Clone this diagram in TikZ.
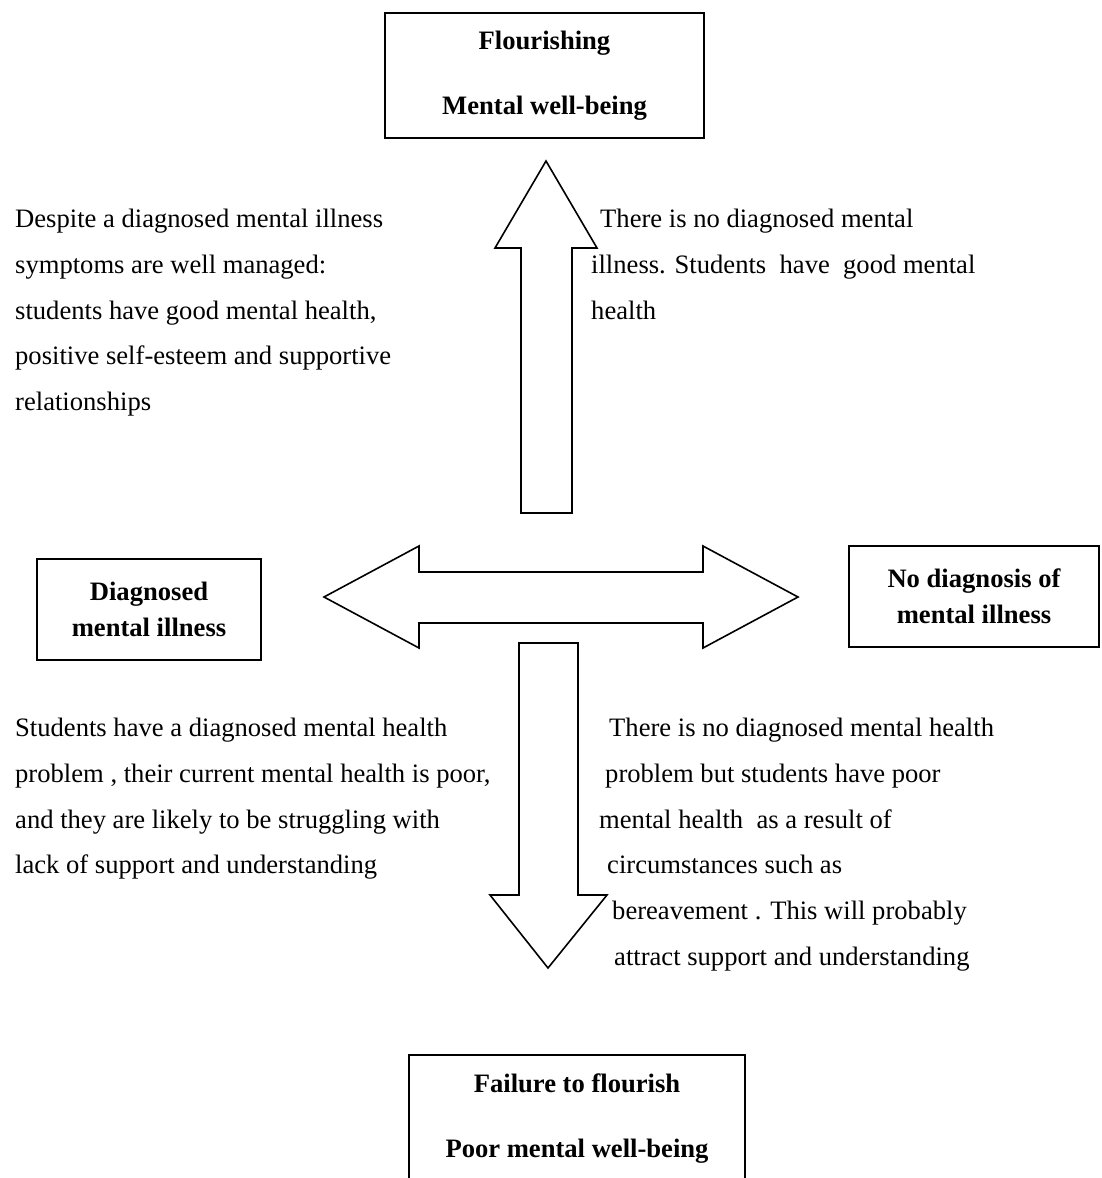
\documentclass[tikz,border=0pt]{standalone}
\usepackage{fontspec}
\setmainfont{Liberation Serif}
\usetikzlibrary{positioning}

\tikzset{
  wellbox/.style={draw, line width=1.6pt, align=center, inner sep=0pt, font=\bfseries\fontsize{26.6}{65}\selectfont},
  diagbox/.style={draw, line width=1.6pt, align=center, inner sep=0pt, font=\bfseries\fontsize{26.6}{36}\selectfont},
  note/.style={anchor=north west, align=left, inner sep=0pt, font=\fontsize{26.6}{45.7}\selectfont},
  fatarrow/.style={draw, line width=1.6pt, line join=miter, fill=white}
}

\begin{document}
\begin{tikzpicture}[x=1pt, y=-1pt]
  \useasboundingbox (0,0) rectangle (1101,1178);

  \node[wellbox, minimum width=319pt, minimum height=125pt] (flourish) at (544.5,75.5) {Flourishing\\Mental well-being};
  \node[wellbox, minimum width=336pt, minimum height=128pt] (failure) at (577,1119) {Failure to flourish\\Poor mental well-being};
  \node[diagbox, minimum width=224pt, minimum height=101pt] (diag) at (149,609.5) {Diagnosed\\mental illness};
  \node[diagbox, minimum width=250pt, minimum height=101pt] (nodiag) at (974,596.5) {No diagnosis of\\mental illness};

  \draw[fatarrow] (521,513) -- (521,248) -- (495,248) -- (546,161) -- (597,248) -- (572,248) -- (572,513) -- cycle;
  \draw[fatarrow] (324,597) -- (419,546) -- (419,572) -- (703,572) -- (703,546) -- (798,597)
    -- (703,648) -- (703,623) -- (419,623) -- (419,648) -- cycle;
  \draw[fatarrow] (519,643) -- (578,643) -- (578,895) -- (607,895) -- (548,968) -- (490,895) -- (519,895) -- cycle;

  \node[note] (upleft) at (15,209) {Despite a diagnosed mental illness\\symptoms are well managed:\\students have good mental health,\\positive self-esteem and supportive\\relationships};
  \node[note] (upright) at (591,209) {\hspace*{9pt}There is no diagnosed mental\\illness. Students\ \ have\ \ good mental\\health};
  \node[note] (lowleft) at (15,718) {Students have a diagnosed mental health\\problem , their current mental health is poor,\\and they are likely to be struggling with\\lack of support and understanding};
  \node[note] (lowright) at (599,718) {\hspace*{10pt}There is no diagnosed mental health\\\hspace*{6pt}problem but students have poor\\mental health\ \ as a result of\\\hspace*{8pt}circumstances such as\\\hspace*{13pt}bereavement . This will probably\\\hspace*{15pt}attract support and understanding};
\end{tikzpicture}
\end{document}
